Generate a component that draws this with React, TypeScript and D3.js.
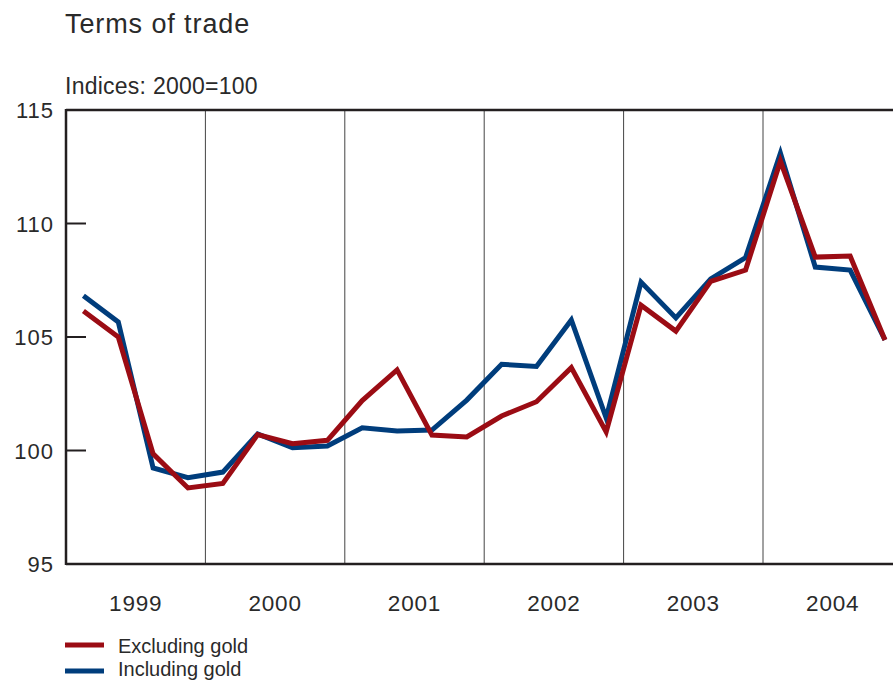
import React from "react";
import * as d3 from "d3";

const years = ["1999", "2000", "2001", "2002", "2003", "2004"];
const yTicks = [95, 100, 105, 110, 115];
const excludingGold = [
  106.15, 105.0, 99.85, 98.35, 98.55, 100.7, 100.3, 100.45,
  102.2, 103.55, 100.68, 100.6, 101.52, 102.15, 103.65, 100.82,
  106.4, 105.26, 107.45, 107.95, 112.75, 108.52, 108.57, 104.87,
];
const includingGold = [
  106.82, 105.66, 99.23, 98.8, 99.05, 100.73, 100.12, 100.2,
  101.0, 100.86, 100.9, 102.22, 103.8, 103.7, 105.75, 101.43,
  107.42, 105.84, 107.56, 108.5, 113.1, 108.08, 107.95, 104.87,
];
const seriesNames = ["Excluding gold", "Including gold"];
const colors = ["#9b0c14", "#003d7c"];

const W = 893;
const H = 681;
const left = 66;
const top = 110;
const bottom = 564;
const quarterW = 34.85;

export default function App() {
  const nQ = years.length * 4;
  const x = d3.scaleLinear().domain([0, nQ]).range([left, left + nQ * quarterW]);
  const y = d3.scaleLinear().domain([95, 115]).range([bottom, top]);
  const line = d3
    .line<number>()
    .x((_, i) => x(i + 0.5))
    .y((d) => y(d));
  const font = "'Liberation Sans', Arial, sans-serif";
  const textColor = "#2a2a2a";
  const right = x(nQ);
  return (
    <svg
      width={W}
      height={H}
      style={{ position: "absolute", left: 0, top: 0, display: "block" }}
      fontFamily={font}
    >
      <rect x={0} y={0} width={W} height={H} fill="#fff" />
      <text x={65} y={33} fontSize={27} letterSpacing={0.9} fill={textColor}>
        Terms of trade
      </text>
      <text x={65} y={94} fontSize={23} letterSpacing={0.25} fill={textColor}>
        Indices: 2000=100
      </text>
      {/* year separators */}
      {years.slice(1).map((yr, i) => (
        <line
          key={yr}
          x1={x((i + 1) * 4)}
          x2={x((i + 1) * 4)}
          y1={top}
          y2={bottom}
          stroke="#444"
          strokeWidth={1}
        />
      ))}
      {/* y ticks */}
      {yTicks.map((t) => (
        <g key={t}>
          {t !== 95 && t !== 115 && (
            <line x1={left} x2={left + 20} y1={y(t)} y2={y(t)} stroke="#231f20" strokeWidth={2} />
          )}
          <text
            x={54}
            y={y(t) + 8}
            fontSize={22}
            letterSpacing={1}
            textAnchor="end"
            fill={textColor}
          >
            {t}
          </text>
        </g>
      ))}
      {/* frame */}
      <line x1={left} x2={right} y1={top} y2={top} stroke="#231f20" strokeWidth={2.5} />
      <line x1={left} x2={right} y1={bottom} y2={bottom} stroke="#231f20" strokeWidth={2.5} />
      <line x1={left} x2={left} y1={top - 1} y2={bottom + 1} stroke="#231f20" strokeWidth={2.5} />
      {/* year labels */}
      {years.map((yr, i) => (
        <text
          key={yr}
          x={x(i * 4 + 2)}
          y={611}
          fontSize={22.5}
          letterSpacing={0.8}
          textAnchor="middle"
          fill={textColor}
        >
          {yr}
        </text>
      ))}
      {/* series */}
      {[includingGold, excludingGold].map((s, k) => (
        <path
          key={k}
          d={line(s) || ""}
          fill="none"
          stroke={k === 0 ? colors[1] : colors[0]}
          strokeWidth={5}
          strokeLinejoin="miter"
          strokeLinecap="butt"
        />
      ))}
      {/* legend */}
      {seriesNames.map((n, i) => (
        <g key={n}>
          <line
            x1={65}
            x2={104}
            y1={645 + i * 26}
            y2={645 + i * 26}
            stroke={colors[i]}
            strokeWidth={5}
          />
          <text x={118} y={653 + i * 23} fontSize={20} fill={textColor}>
            {n}
          </text>
        </g>
      ))}
    </svg>
  );
}
